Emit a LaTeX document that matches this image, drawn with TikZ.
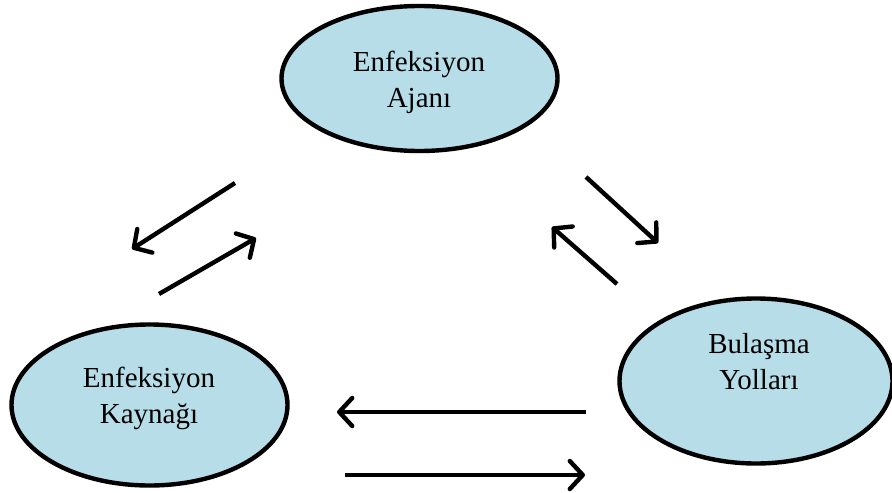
\documentclass[tikz,border=0pt]{standalone}
\usepackage{fontspec}
\setmainfont{Liberation Serif}
\usepackage{tikz}
\usetikzlibrary{shapes, arrows.meta, calc, shapes.geometric}
\definecolor{acikmavi}{HTML}{B7DDE8}
\tikzset{
    halka/.style ={ellipse, draw, line width=2.2pt, fill=acikmavi, inner sep=0pt},
    yazi/.style ={align=center, font=\fontsize{14.5}{18}\selectfont},
    ok/.style ={-{Straight Barb[length=6.5pt,width=14pt,round]}, line width=2.2pt}
    }

\begin{document}
\begin{tikzpicture}[
      x=0.5pt, y=-0.5pt, % pixel grid
      semithick % line style
    ]
    \useasboundingbox (0,0) rectangle (892,492);

    \node[halka, minimum width=138pt, minimum height=72.5pt] (ajan) at (419.5,78.5) {};
    \node[halka, minimum width=138pt, minimum height=80.5pt] (kaynak) at (149.5,405) {};
    \node[halka, minimum width=136.5pt, minimum height=82.5pt] (yol) at (756,381) {};

    \node[yazi] (ajanT) at (419,82) {Enfeksiyon\\Ajanı};
    \node[yazi] (kaynakT) at (149,398) {Enfeksiyon\\Kaynağı};
    \node[yazi] (yolT) at (759,362) {Bulaşma\\Yolları};

    % arrow ends
    \coordinate (1) at (235,183);
    \coordinate (2) at (132,249);
    \coordinate (3) at (159,294);
    \coordinate (4) at (256,238);

    \coordinate (5) at (586,177);
    \coordinate (6) at (658,243);
    \coordinate (7) at (617,284);
    \coordinate (8) at (552,227);

    \coordinate (9) at (586,412);
    \coordinate (10) at (337,412);
    \coordinate (11) at (345,475);
    \coordinate (12) at (585,475);

    \draw[ok] (1) -- (2);
    \draw[ok] (3) -- (4);
    \draw[ok] (5) -- (6);
    \draw[ok] (7) -- (8);
    \draw[ok] (9) -- (10);
    \draw[ok] (11) -- (12);
\end{tikzpicture}
\end{document}
